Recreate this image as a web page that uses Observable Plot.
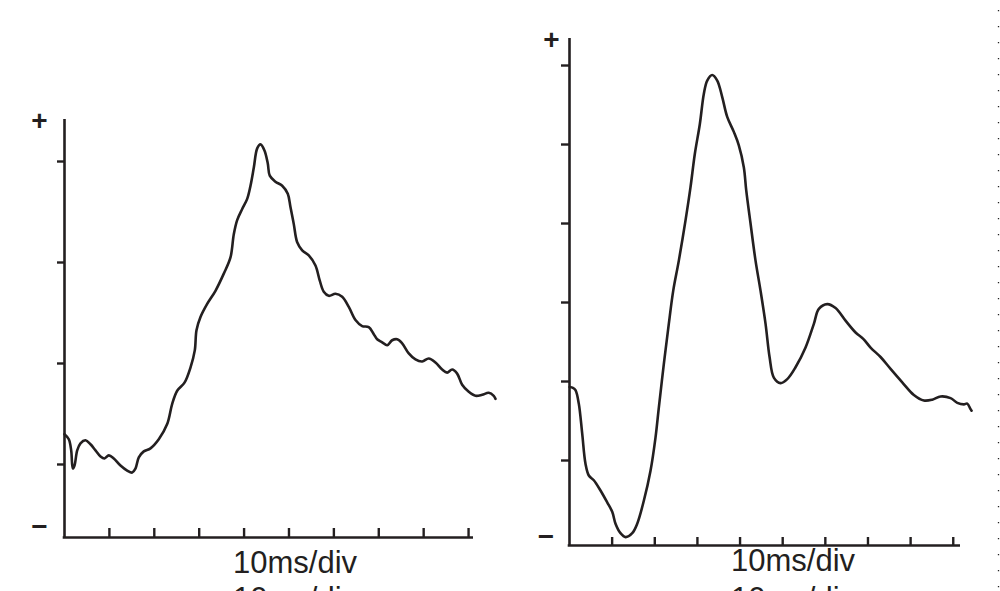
<!DOCTYPE html>
<html>
<head>
<meta charset="utf-8">
<script src="https://cdn.jsdelivr.net/npm/d3@7"></script>
<script src="https://cdn.jsdelivr.net/npm/@observablehq/plot@0.6"></script>
<style>
  html, body { margin: 0; padding: 0; background: #fff; overflow: hidden; }
  #wrap { position: relative; width: 1000px; height: 591px; overflow: hidden; background: #fff; }
  #wrap svg { position: absolute; top: 0; }
</style>
</head>
<body>
<div id="wrap"></div>
<script>
// ---------- Data (time in ms, amplitude in divisions) ----------
const leftTime = [0, 0.96, 1.49, 1.85, 2.23, 2.83, 3.56, 4.68, 5.79, 6.90, 8.02, 8.91, 9.87, 10.98, 12.47, 13.96, 15.08, 15.81, 16.55, 17.66, 19.15, 21.00, 22.87, 23.99, 25.10, 26.73, 28.06, 29.02, 29.40, 30.29, 31.78, 33.63, 35.48, 36.97, 37.71, 38.46, 39.58, 40.69, 41.43, 42.17, 42.92, 43.65, 44.54, 45.28, 45.72, 46.99, 48.49, 49.73, 50.33, 51.07, 51.83, 52.94, 54.41, 55.90, 56.86, 57.75, 58.86, 60.36, 61.85, 63.32, 64.81, 66.30, 67.77, 68.89, 69.64, 70.76, 71.87, 72.98, 74.10, 75.21, 76.68, 78.17, 79.67, 81.14, 82.63, 84.12, 85.23, 86.35, 87.46, 88.57, 90.04, 91.54, 93.03, 94.50, 95.61, 95.99];
const leftValue = [1.30, 1.25, 1.14, 0.96, 0.99, 1.14, 1.21, 1.24, 1.20, 1.14, 1.08, 1.06, 1.09, 1.06, 0.99, 0.94, 0.92, 0.96, 1.07, 1.13, 1.16, 1.25, 1.40, 1.60, 1.73, 1.81, 1.96, 2.13, 2.33, 2.46, 2.59, 2.72, 2.89, 3.05, 3.28, 3.42, 3.53, 3.63, 3.76, 3.94, 4.13, 4.17, 4.11, 3.98, 3.86, 3.80, 3.76, 3.68, 3.55, 3.38, 3.20, 3.12, 3.07, 2.97, 2.82, 2.71, 2.67, 2.69, 2.66, 2.56, 2.43, 2.37, 2.36, 2.29, 2.24, 2.21, 2.18, 2.23, 2.24, 2.20, 2.10, 2.04, 2.02, 2.05, 2.01, 1.94, 1.91, 1.94, 1.90, 1.79, 1.72, 1.68, 1.69, 1.71, 1.68, 1.65];

const rightTime = [0.05, 0.8, 1.41, 2.18, 2.98, 3.75, 4.53, 5.70, 7.27, 8.84, 10.02, 10.79, 11.96, 13.14, 14.71, 15.88, 17.43, 19.00, 20.17, 20.95, 22.12, 23.29, 24.33, 25.64, 27.21, 28.38, 29.39, 30.57, 31.50, 32.30, 33.47, 34.65, 35.82, 36.99, 38.54, 39.71, 40.89, 41.45, 42.46, 43.63, 44.80, 45.98, 46.92, 47.92, 49.50, 51.07, 53.01, 55.36, 57.31, 58.48, 60.45, 62.40, 64.74, 67.09, 68.89, 70.61, 72.95, 75.30, 78.04, 80.76, 83.11, 85.08, 87.03, 89.37, 90.95, 92.49, 93.29, 94.06, 94.30];
const rightValue = [1.93, 1.92, 1.89, 1.72, 1.34, 0.96, 0.81, 0.75, 0.62, 0.47, 0.35, 0.20, 0.08, 0.03, 0.08, 0.20, 0.49, 0.87, 1.29, 1.67, 2.22, 2.73, 3.15, 3.53, 4.04, 4.46, 4.88, 5.26, 5.64, 5.81, 5.88, 5.81, 5.60, 5.35, 5.16, 4.99, 4.71, 4.42, 4.00, 3.53, 3.15, 2.73, 2.31, 2.05, 1.98, 2.03, 2.18, 2.43, 2.73, 2.92, 2.98, 2.93, 2.77, 2.62, 2.54, 2.43, 2.31, 2.16, 1.99, 1.83, 1.76, 1.77, 1.81, 1.79, 1.73, 1.71, 1.72, 1.65, 1.63];

const timeTicks = [10, 20, 30, 40, 50, 60, 70, 80, 90];
const leftAmpTicks = [1, 2, 3, 4];
const rightAmpTicks = [1, 2, 3, 4, 5, 6];
const leftXDomain = [0, 91.1];
const leftYDomain = [0.277, 4.416];
const rightXDomain = [0, 91.7];
const rightYDomain = [-0.076, 6.342];
const axisLabel = "10ms/div";
const plusLabel = "+";
const minusLabel = "\u2212";

// ---------- Drawing ----------
const ink = "#231f20";
const font = "'Liberation Sans', Arial, sans-serif";

function panel(cfg) {
  const data = cfg.time.map((t, i) => ({t, v: cfg.value[i]}));
  const innerH = cfg.height - cfg.marginTop - cfg.marginBottom;
  const signStyle = {fontSize: 28, fontWeight: "bold", fill: ink, fontFamily: font, textAnchor: "middle", lineAnchor: "middle"};
  const labelStyle = {fontSize: 31, fill: ink, fontFamily: font, textAnchor: "middle", lineAnchor: "bottom"};
  const marks = [
    Plot.ruleX([cfg.xDomain[0]], {stroke: ink, strokeWidth: 2.6}),
    Plot.ruleY([cfg.yDomain[0]], {stroke: ink, strokeWidth: 2.6, insetLeft: -1.3}),
    Plot.axisY(cfg.yTicks, {anchor: "left", tickSize: cfg.yTickSize, tickFormat: () => "", label: null, stroke: ink, strokeWidth: 2.4}),
    Plot.tickX(cfg.xTicks, {x: d => d, stroke: ink, strokeWidth: 2.4, insetTop: innerH - cfg.xTickSize}),
    Plot.line(data, {x: "t", y: "v", curve: "catmull-rom", stroke: ink, strokeWidth: 2.6}),
    Plot.text([plusLabel], {frameAnchor: "top-left", dx: cfg.plusDx, dy: cfg.plusDy, ...signStyle}),
    Plot.text([minusLabel], {frameAnchor: "bottom-left", dx: cfg.minusDx, dy: cfg.minusDy, ...signStyle}),
    Plot.text([axisLabel], {frameAnchor: "bottom", dx: cfg.labelDx, dy: cfg.labelDy, ...labelStyle}),
    Plot.text([axisLabel], {frameAnchor: "bottom", dx: cfg.labelDx, dy: cfg.labelDy2, ...labelStyle})
  ];
  if (cfg.dotted) {
    marks.push(Plot.ruleX([cfg.xDomain[1]], {dx: cfg.dotted.dx, insetTop: cfg.dotted.insetTop, insetBottom: -cfg.marginBottom, stroke: "#222", strokeWidth: 1.3, strokeDasharray: "1.3,14.7"}));
  }
  const svg = Plot.plot({
    width: cfg.width,
    height: cfg.height,
    marginLeft: cfg.marginLeft,
    marginRight: cfg.marginRight,
    marginTop: cfg.marginTop,
    marginBottom: cfg.marginBottom,
    x: {domain: cfg.xDomain, axis: null},
    y: {domain: cfg.yDomain, axis: null},
    style: {background: "transparent", overflow: "visible", fontFamily: font},
    marks
  });
  svg.style.left = cfg.left + "px";
  return svg;
}

const wrap = document.getElementById("wrap");
wrap.appendChild(panel({
  left: 0, width: 500, height: 591,
  marginLeft: 64, marginRight: 27, marginTop: 119, marginBottom: 54,
  time: leftTime, value: leftValue,
  xTicks: timeTicks, yTicks: leftAmpTicks,
  xDomain: leftXDomain, yDomain: leftYDomain,
  yTickSize: 7, xTickSize: 9,
  plusDx: -25, plusDy: 2, minusDx: -25, minusDy: -10,
  labelDx: 26, labelDy: 35, labelDy2: 71
}));
wrap.appendChild(panel({
  left: 500, width: 500, height: 591,
  marginLeft: 69, marginRight: 40, marginTop: 38, marginBottom: 46,
  time: rightTime, value: rightValue,
  xTicks: timeTicks, yTicks: rightAmpTicks,
  xDomain: rightXDomain, yDomain: rightYDomain,
  yTickSize: 8, xTickSize: 8,
  plusDx: -18, plusDy: 1.5, minusDx: -23.5, minusDy: -8,
  labelDx: 28, labelDy: 25, labelDy2: 63,
  dotted: {dx: 38, insetTop: -28}
}));
</script>
</body>
</html>
